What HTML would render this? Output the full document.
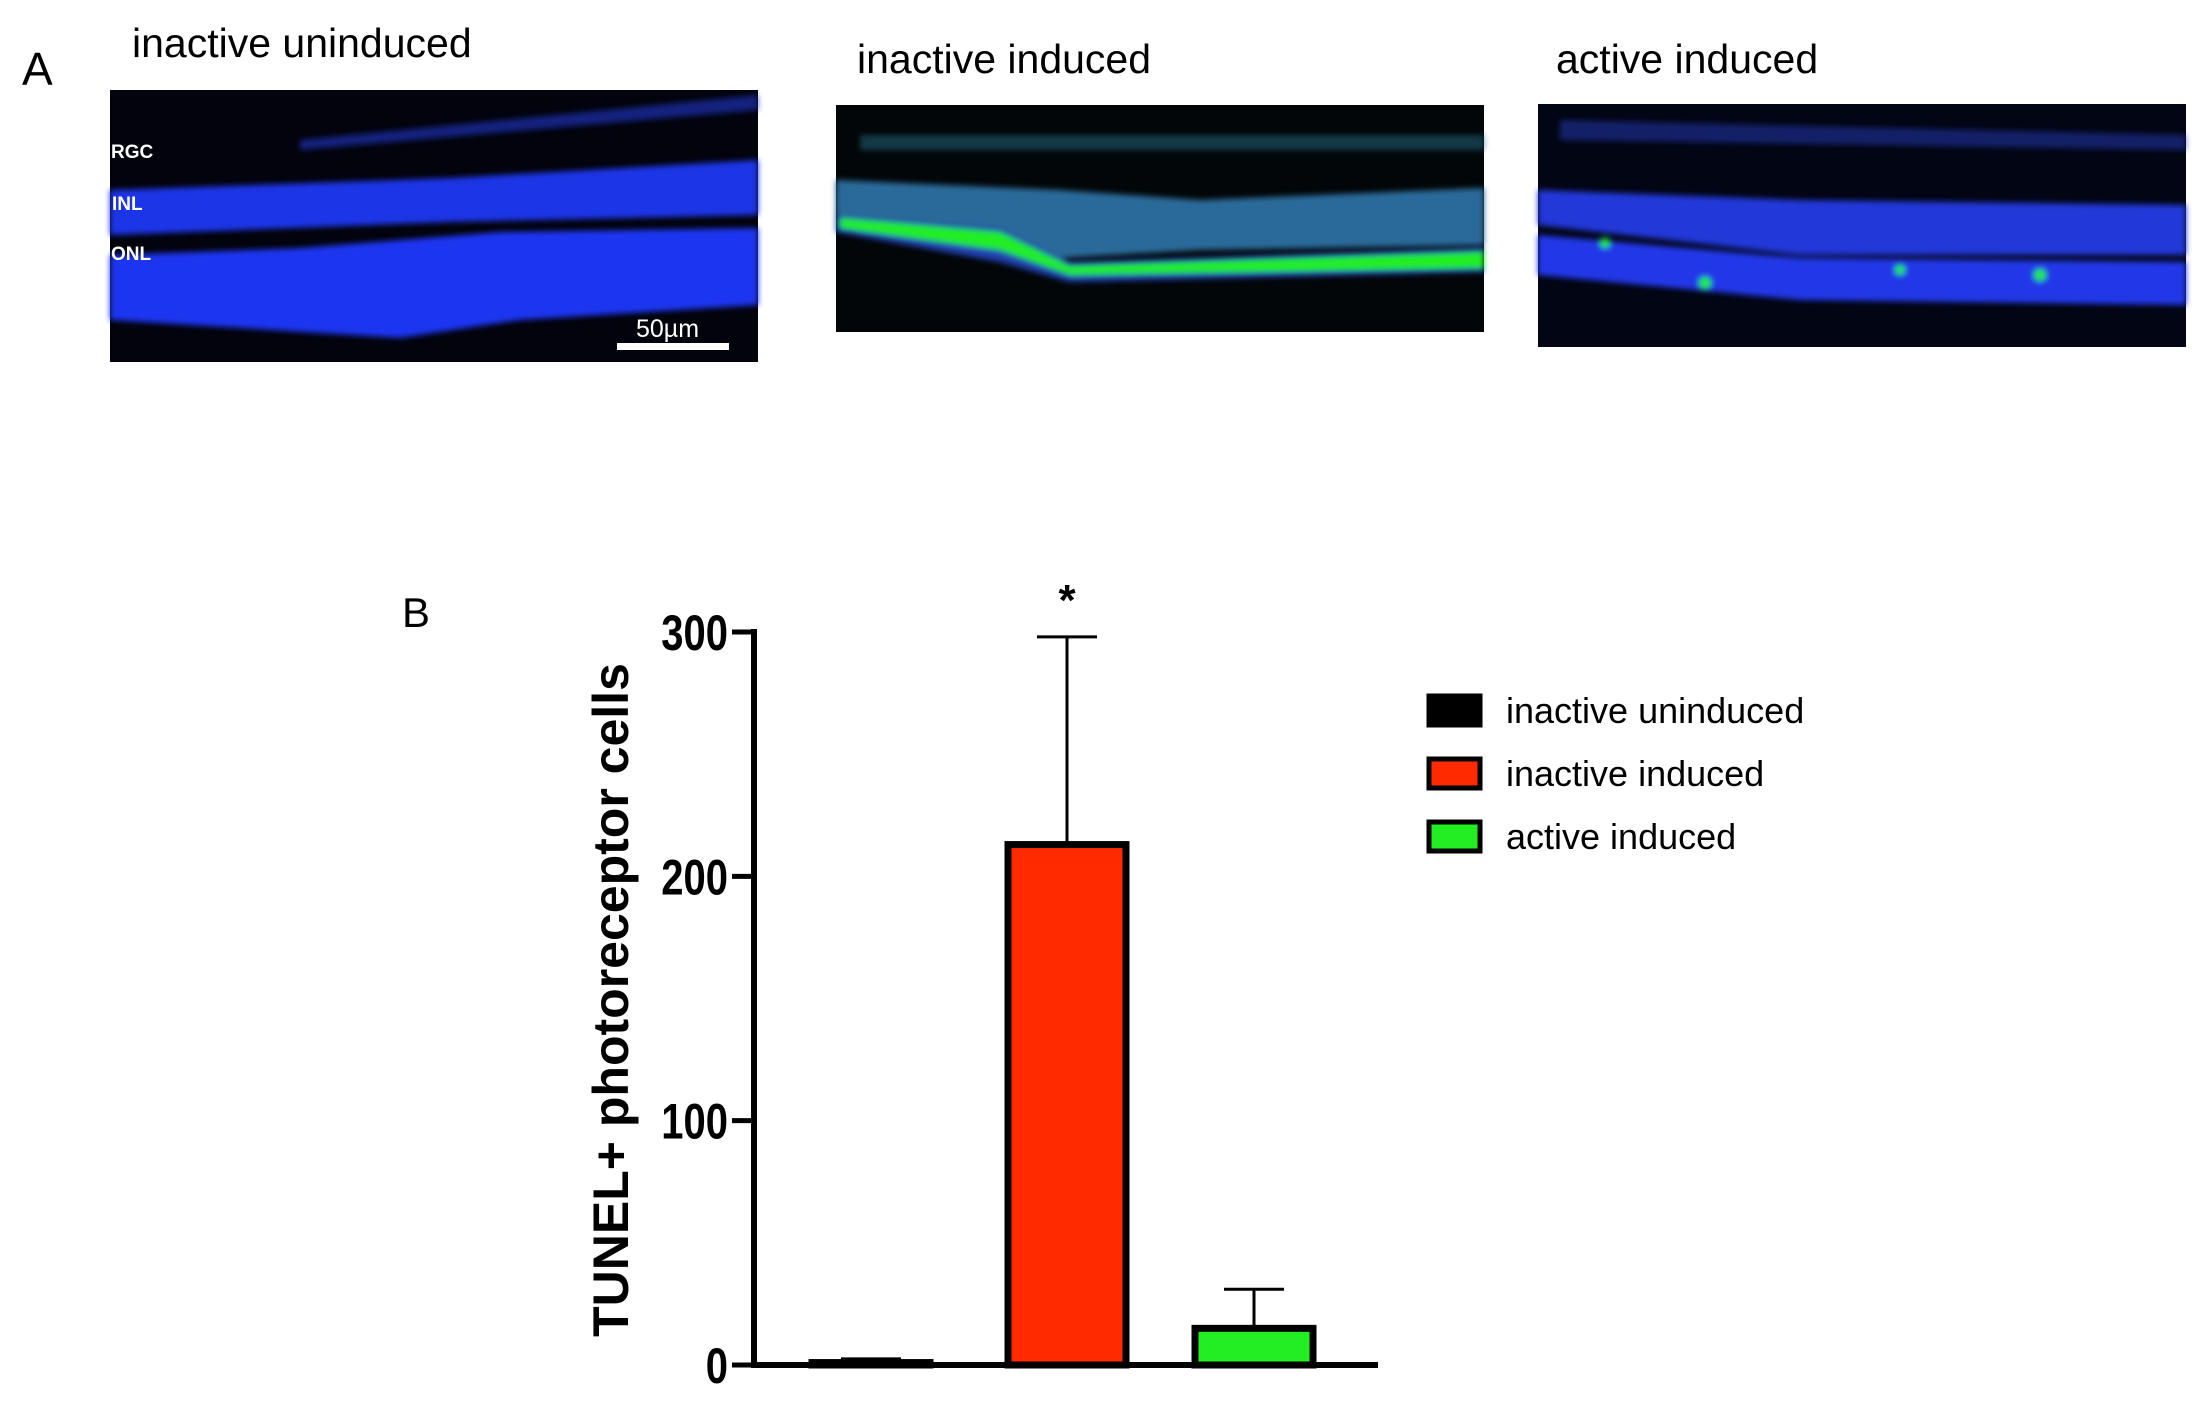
<!DOCTYPE html>
<html><head><meta charset="utf-8"><style>
body{margin:0;width:2207px;height:1417px;background:#fff;overflow:hidden;font-family:"Liberation Sans",sans-serif}
</style></head><body>
<svg width="2207" height="1417" xmlns="http://www.w3.org/2000/svg">
<defs>
<filter id="blur"><feGaussianBlur stdDeviation="3"/></filter>
</defs>
<text x="22" y="85" font-size="46">A</text>
<text x="132" y="57" font-size="41">inactive uninduced</text>
<text x="857" y="73" font-size="41">inactive induced</text>
<text x="1556" y="73" font-size="41">active induced</text>

<g>
<rect x="110" y="90" width="648" height="272" fill="#02030c"/>
<g filter="url(#blur)">
<polygon points="300,140 758,95 758,110 300,150" fill="#1a2fb0" opacity="0.7"/>
<polygon points="110,190 450,178 758,160 758,215 450,222 110,235" fill="#1f36e6"/>
<polygon points="110,255 300,248 500,232 758,228 758,305 520,320 400,338 110,320" fill="#1f36f0"/>
</g>
<text x="111" y="158" font-size="19" fill="#fff" font-weight="bold">RGC</text>
<text x="112" y="210" font-size="19" fill="#fff" font-weight="bold">INL</text>
<text x="111" y="260" font-size="19" fill="#fff" font-weight="bold">ONL</text>
<text x="636" y="337" font-size="25" fill="#fff">50µm</text>
<rect x="617" y="343" width="112" height="7" fill="#fff"/>
</g>

<g>
<rect x="836" y="105" width="648" height="227" fill="#020608"/>
<g filter="url(#blur)">
<polygon points="860,135 1484,135 1484,150 860,150" fill="#1f5a70" opacity="0.6"/>
<polygon points="836,180 1060,190 1200,200 1484,188 1484,245 1200,250 1060,258 836,225" fill="#2a6a9a"/>
<polygon points="836,215 1000,228 1070,262 1484,248 1484,272 1070,282 1000,262 836,232" fill="#2040b0"/>
<polygon points="840,218 1000,232 1070,266 1484,252 1484,268 1070,275 1000,250 840,228" fill="#22ee22"/>
</g>
</g>

<g>
<rect x="1538" y="104" width="648" height="243" fill="#020514"/>
<g filter="url(#blur)">
<polygon points="1560,120 2186,135 2186,150 1560,140" fill="#1a30a0" opacity="0.6"/>
<polygon points="1538,190 1800,200 2186,205 2186,255 1800,255 1538,225" fill="#2038d8"/>
<polygon points="1538,235 1800,258 2186,262 2186,305 1800,300 1538,275" fill="#2038e8"/>
<circle cx="1705" cy="283" r="6" fill="#22ee22"/><circle cx="1900" cy="270" r="5" fill="#22ee22"/><circle cx="2040" cy="275" r="6" fill="#22ee22"/><circle cx="1605" cy="243" r="5" fill="#22ee22"/>
</g>
</g>

<text x="402" y="627" font-size="42">B</text>
<g id="chart"></g>
</svg>
<script>
const categories=["inactive uninduced","inactive induced","active induced"];
const values=[1,213,15];
const errors=[1.5,85,16];
const colors=["#000000","#ff2a00","#22ee22"];
const ticks=[0,100,200,300];
const ns="http://www.w3.org/2000/svg";
const g=document.getElementById("chart");
const X0=754,Y0=1365,Y300=632;
const y=v=>Y0-(v/300)*(Y0-Y300);
const barX=[812,1008,1195],barW=118;
function mk(t,a,p){const e=document.createElementNS(ns,t);for(const k in a)e.setAttribute(k,a[k]);(p||g).appendChild(e);return e;}
let e;
e=mk("line",{x1:X0,y1:Y300-3,x2:X0,y2:Y0+3,stroke:"#000","stroke-width":6});


e=mk("line",{x1:X0-3,y1:Y0,x2:1378,y2:Y0,stroke:"#000","stroke-width":6});


ticks.forEach(t=>{
 e=mk("line",{x1:X0-22,y1:y(t),x2:X0,y2:y(t),stroke:"#000","stroke-width":5});
 
 
 e=mk("text",{x:X0-26,y:y(t)+18,"text-anchor":"end","font-size":50,"font-weight":"bold",transform:`translate(${X0-26},0) scale(0.8,1) translate(${-(X0-26)},0)`});
 e.textContent=t;
 
 
});
e=mk("text",{x:0,y:0,"text-anchor":"middle","font-size":50,"font-weight":"bold",transform:`translate(628,1000) rotate(-90)`});
e.textContent="TUNEL+ photoreceptor cells";


values.forEach((v,i)=>{
 const cx=barX[i]+barW/2;
 e=mk("line",{x1:cx,y1:y(v),x2:cx,y2:y(v+errors[i]),stroke:"#000","stroke-width":3});
 
 
 e=mk("line",{x1:cx-30,y1:y(v+errors[i]),x2:cx+30,y2:y(v+errors[i]),stroke:"#000","stroke-width":3});
 
 
 e=mk("rect",{x:barX[i],y:y(v),width:barW,height:Math.max(Y0-y(v),1),fill:colors[i],stroke:"#000","stroke-width":7});
 
 
});
e=mk("text",{x:barX[1]+barW/2,y:y(values[1]+errors[1])-22,"text-anchor":"middle","font-size":44,"font-weight":"bold"});
e.textContent="*";


categories.forEach((c,i)=>{
 const ly=710+i*63;
 e=mk("rect",{x:1429,y:ly-14,width:51,height:29,fill:colors[i],stroke:"#000","stroke-width":5});
 
 
 e=mk("text",{x:1506,y:ly+13,"font-size":36});
 e.textContent=c;
 
 
});
</script>
</body></html>
